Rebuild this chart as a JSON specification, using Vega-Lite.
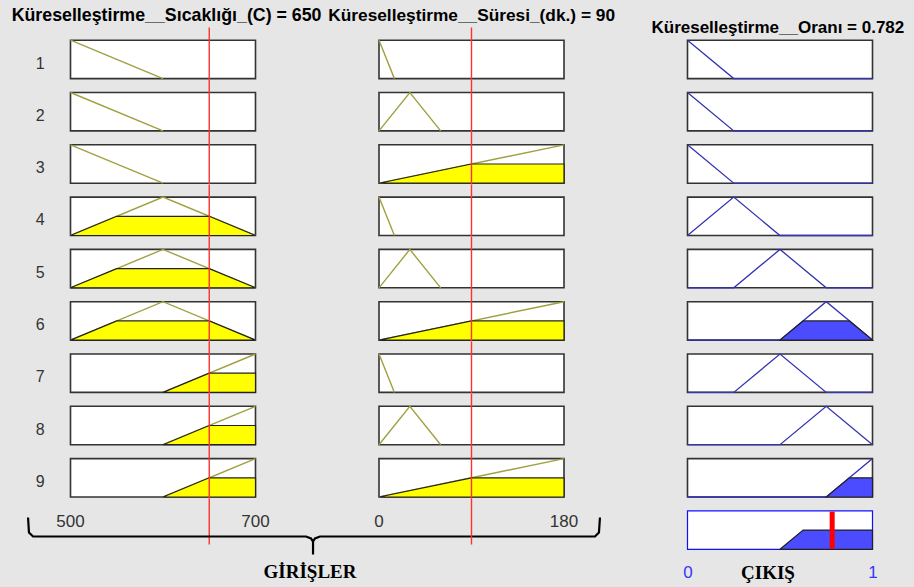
{
 "$schema": "https://vega.github.io/schema/vega-lite/v6.json",
 "background": "#e6e6e6",
 "padding": {"left": 11.5, "top": 6.5, "right": 15, "bottom": 20},
 "config": {"view": {"stroke": null}, "font": "Liberation Sans"},
 "spacing": 308.5,
 "bounds": "flush",
 "datasets": {
  "temp": [
   {"rule":1,"kind":"box","x":500,"x2":700},{"rule":2,"kind":"box","x":500,"x2":700},{"rule":3,"kind":"box","x":500,"x2":700},
   {"rule":4,"kind":"box","x":500,"x2":700},{"rule":5,"kind":"box","x":500,"x2":700},{"rule":6,"kind":"box","x":500,"x2":700},
   {"rule":7,"kind":"box","x":500,"x2":700},{"rule":8,"kind":"box","x":500,"x2":700},{"rule":9,"kind":"box","x":500,"x2":700},
   {"rule":1,"kind":"mf","x":500,"mu":1},{"rule":1,"kind":"mf","x":600,"mu":0},
   {"rule":2,"kind":"mf","x":500,"mu":1},{"rule":2,"kind":"mf","x":600,"mu":0},
   {"rule":3,"kind":"mf","x":500,"mu":1},{"rule":3,"kind":"mf","x":600,"mu":0},
   {"rule":4,"kind":"mf","x":500,"mu":0},{"rule":4,"kind":"mf","x":600,"mu":1},{"rule":4,"kind":"mf","x":700,"mu":0},
   {"rule":5,"kind":"mf","x":500,"mu":0},{"rule":5,"kind":"mf","x":600,"mu":1},{"rule":5,"kind":"mf","x":700,"mu":0},
   {"rule":6,"kind":"mf","x":500,"mu":0},{"rule":6,"kind":"mf","x":600,"mu":1},{"rule":6,"kind":"mf","x":700,"mu":0},
   {"rule":7,"kind":"mf","x":600,"mu":0},{"rule":7,"kind":"mf","x":700,"mu":1},
   {"rule":8,"kind":"mf","x":600,"mu":0},{"rule":8,"kind":"mf","x":700,"mu":1},
   {"rule":9,"kind":"mf","x":600,"mu":0},{"rule":9,"kind":"mf","x":700,"mu":1},
   {"rule":4,"kind":"fill","x":500,"mu":0},{"rule":4,"kind":"fill","x":550,"mu":0.5},{"rule":4,"kind":"fill","x":650,"mu":0.5},{"rule":4,"kind":"fill","x":700,"mu":0},
   {"rule":5,"kind":"fill","x":500,"mu":0},{"rule":5,"kind":"fill","x":550,"mu":0.5},{"rule":5,"kind":"fill","x":650,"mu":0.5},{"rule":5,"kind":"fill","x":700,"mu":0},
   {"rule":6,"kind":"fill","x":500,"mu":0},{"rule":6,"kind":"fill","x":550,"mu":0.5},{"rule":6,"kind":"fill","x":650,"mu":0.5},{"rule":6,"kind":"fill","x":700,"mu":0},
   {"rule":7,"kind":"fill","x":600,"mu":0},{"rule":7,"kind":"fill","x":650,"mu":0.5},{"rule":7,"kind":"fill","x":700,"mu":0.5},
   {"rule":8,"kind":"fill","x":600,"mu":0},{"rule":8,"kind":"fill","x":650,"mu":0.5},{"rule":8,"kind":"fill","x":700,"mu":0.5},
   {"rule":9,"kind":"fill","x":600,"mu":0},{"rule":9,"kind":"fill","x":650,"mu":0.5},{"rule":9,"kind":"fill","x":700,"mu":0.5},
   {"rule":1,"kind":"red","x":650},{"rule":2,"kind":"red","x":650},{"rule":3,"kind":"red","x":650},
   {"rule":4,"kind":"red","x":650},{"rule":5,"kind":"red","x":650},{"rule":6,"kind":"red","x":650},
   {"rule":7,"kind":"red","x":650},{"rule":8,"kind":"red","x":650},{"rule":9,"kind":"red","x":650},
   {"rule":10,"kind":"red10","x":650},
   {"rule":10,"kind":"lbl","x":500,"text":"500"},{"rule":10,"kind":"lbl","x":700,"text":"700"},
   {"rule":10,"kind":"brace","i":1,"x":454.1,"mu":0.828},
   {"rule":10,"kind":"brace","i":2,"x":455.1,"mu":0.438},
   {"rule":10,"kind":"brace","i":3,"x":459.5,"mu":0.334},
   {"rule":10,"kind":"brace","i":4,"x":754.6,"mu":0.334},
   {"rule":10,"kind":"brace","i":5,"x":760.0,"mu":0.282},
   {"rule":10,"kind":"brace","i":6,"x":762.2,"mu":0.203},
   {"rule":10,"kind":"brace","i":7,"x":762.2,"mu":-0.135},
   {"rule":10,"kind":"brace","i":8,"x":762.2,"mu":0.203},
   {"rule":10,"kind":"brace","i":9,"x":764.3,"mu":0.282},
   {"rule":10,"kind":"brace","i":10,"x":769.7,"mu":0.334},
   {"rule":10,"kind":"brace","i":11,"x":1067.0,"mu":0.334},
   {"rule":10,"kind":"brace","i":12,"x":1071.3,"mu":0.438},
   {"rule":10,"kind":"brace","i":13,"x":1072.4,"mu":0.828},
   {"rule":10,"kind":"cap","x":758.9,"mu":-0.578,"text":"GİRİŞLER"}
  ],
  "time": [
   {"rule":1,"kind":"box","x":0,"x2":180},{"rule":2,"kind":"box","x":0,"x2":180},{"rule":3,"kind":"box","x":0,"x2":180},
   {"rule":4,"kind":"box","x":0,"x2":180},{"rule":5,"kind":"box","x":0,"x2":180},{"rule":6,"kind":"box","x":0,"x2":180},
   {"rule":7,"kind":"box","x":0,"x2":180},{"rule":8,"kind":"box","x":0,"x2":180},{"rule":9,"kind":"box","x":0,"x2":180},
   {"rule":1,"kind":"mf","x":0,"mu":1},{"rule":1,"kind":"mf","x":15,"mu":0},
   {"rule":4,"kind":"mf","x":0,"mu":1},{"rule":4,"kind":"mf","x":15,"mu":0},
   {"rule":7,"kind":"mf","x":0,"mu":1},{"rule":7,"kind":"mf","x":15,"mu":0},
   {"rule":2,"kind":"mf","x":0,"mu":0},{"rule":2,"kind":"mf","x":30,"mu":1},{"rule":2,"kind":"mf","x":60,"mu":0},
   {"rule":5,"kind":"mf","x":0,"mu":0},{"rule":5,"kind":"mf","x":30,"mu":1},{"rule":5,"kind":"mf","x":60,"mu":0},
   {"rule":8,"kind":"mf","x":0,"mu":0},{"rule":8,"kind":"mf","x":30,"mu":1},{"rule":8,"kind":"mf","x":60,"mu":0},
   {"rule":3,"kind":"mf","x":0,"mu":0},{"rule":3,"kind":"mf","x":180,"mu":1},
   {"rule":6,"kind":"mf","x":0,"mu":0},{"rule":6,"kind":"mf","x":180,"mu":1},
   {"rule":9,"kind":"mf","x":0,"mu":0},{"rule":9,"kind":"mf","x":180,"mu":1},
   {"rule":3,"kind":"fill","x":0,"mu":0},{"rule":3,"kind":"fill","x":90,"mu":0.5},{"rule":3,"kind":"fill","x":180,"mu":0.5},
   {"rule":6,"kind":"fill","x":0,"mu":0},{"rule":6,"kind":"fill","x":90,"mu":0.5},{"rule":6,"kind":"fill","x":180,"mu":0.5},
   {"rule":9,"kind":"fill","x":0,"mu":0},{"rule":9,"kind":"fill","x":90,"mu":0.5},{"rule":9,"kind":"fill","x":180,"mu":0.5},
   {"rule":1,"kind":"red","x":90},{"rule":2,"kind":"red","x":90},{"rule":3,"kind":"red","x":90},
   {"rule":4,"kind":"red","x":90},{"rule":5,"kind":"red","x":90},{"rule":6,"kind":"red","x":90},
   {"rule":7,"kind":"red","x":90},{"rule":8,"kind":"red","x":90},{"rule":9,"kind":"red","x":90},
   {"rule":10,"kind":"red10","x":90},
   {"rule":10,"kind":"lbl","x":0,"text":"0"},{"rule":10,"kind":"lbl","x":180,"text":"180"}
  ],
  "out": [
   {"rule":1,"kind":"box","x":0,"x2":1},{"rule":2,"kind":"box","x":0,"x2":1},{"rule":3,"kind":"box","x":0,"x2":1},
   {"rule":4,"kind":"box","x":0,"x2":1},{"rule":5,"kind":"box","x":0,"x2":1},{"rule":6,"kind":"box","x":0,"x2":1},
   {"rule":7,"kind":"box","x":0,"x2":1},{"rule":8,"kind":"box","x":0,"x2":1},{"rule":9,"kind":"box","x":0,"x2":1},
   {"rule":10,"kind":"box10","x":0,"x2":1},
   {"rule":1,"kind":"mf","x":0,"mu":1},{"rule":1,"kind":"mf","x":0.25,"mu":0},{"rule":1,"kind":"mf","x":1,"mu":0},
   {"rule":2,"kind":"mf","x":0,"mu":1},{"rule":2,"kind":"mf","x":0.25,"mu":0},{"rule":2,"kind":"mf","x":1,"mu":0},
   {"rule":3,"kind":"mf","x":0,"mu":1},{"rule":3,"kind":"mf","x":0.25,"mu":0},{"rule":3,"kind":"mf","x":1,"mu":0},
   {"rule":4,"kind":"mf","x":0,"mu":0},{"rule":4,"kind":"mf","x":0.25,"mu":1},{"rule":4,"kind":"mf","x":0.5,"mu":0},{"rule":4,"kind":"mf","x":1,"mu":0},
   {"rule":5,"kind":"mf","x":0,"mu":0},{"rule":5,"kind":"mf","x":0.25,"mu":0},{"rule":5,"kind":"mf","x":0.5,"mu":1},{"rule":5,"kind":"mf","x":0.75,"mu":0},{"rule":5,"kind":"mf","x":1,"mu":0},
   {"rule":6,"kind":"mf","x":0,"mu":0},{"rule":6,"kind":"mf","x":0.5,"mu":0},{"rule":6,"kind":"mf","x":0.75,"mu":1},{"rule":6,"kind":"mf","x":1,"mu":0},
   {"rule":7,"kind":"mf","x":0,"mu":0},{"rule":7,"kind":"mf","x":0.25,"mu":0},{"rule":7,"kind":"mf","x":0.5,"mu":1},{"rule":7,"kind":"mf","x":0.75,"mu":0},{"rule":7,"kind":"mf","x":1,"mu":0},
   {"rule":8,"kind":"mf","x":0,"mu":0},{"rule":8,"kind":"mf","x":0.5,"mu":0},{"rule":8,"kind":"mf","x":0.75,"mu":1},{"rule":8,"kind":"mf","x":1,"mu":0},
   {"rule":9,"kind":"mf","x":0,"mu":0},{"rule":9,"kind":"mf","x":0.75,"mu":0},{"rule":9,"kind":"mf","x":1,"mu":1},
   {"rule":6,"kind":"fill","x":0.5,"mu":0},{"rule":6,"kind":"fill","x":0.625,"mu":0.5},{"rule":6,"kind":"fill","x":0.875,"mu":0.5},{"rule":6,"kind":"fill","x":1,"mu":0},
   {"rule":9,"kind":"fill","x":0.75,"mu":0},{"rule":9,"kind":"fill","x":0.875,"mu":0.5},{"rule":9,"kind":"fill","x":1,"mu":0.5},
   {"rule":10,"kind":"fill","x":0.5,"mu":0},{"rule":10,"kind":"fill","x":0.625,"mu":0.5},{"rule":10,"kind":"fill","x":1,"mu":0.5},
   {"rule":10,"kind":"out","x":0.782}
  ]
 },
 "hconcat": [
  {
   "data": {"name": "temp"},
   "title": {"text": "Küreselleştirme__Sıcaklığı_(C) = 650", "fontSize": 17.8, "fontWeight": "bold", "font": "Liberation Sans", "color": "#000", "anchor": "start", "offset": 2.2, "dx": -12},
   "spacing": {"row": 0.3},
   "bounds": "flush",
   "facet": {"row": {"field": "rule", "type": "ordinal", "title": null,
     "header": {"labelOrient": "left", "labelAngle": 0, "labelAlign": "right", "labelBaseline": "line-top", "labelLineHeight": 21, "labelPadding": 17, "labelFontSize": 16, "labelColor": "#333", "labelFont": "Liberation Sans", "labelExpr": "datum.value == 10 ? '' : datum.label"}}},
   "spec": {
    "width": 185, "height": 52,
    "layer": [
     {"transform": [{"filter": "datum.kind == 'box'"}],
      "mark": {"type": "rect", "fill": "white", "stroke": "#333333", "strokeWidth": 1.6},
      "encoding": {"x": {"field": "x", "type": "quantitative", "scale": {"domain": [500, 700], "nice": false, "zero": false}, "axis": null}, "x2": {"field": "x2"},
       "y": {"datum": 0, "type": "quantitative", "scale": {"domain": [-0.023, 1.331], "nice": false, "zero": false}, "axis": null}, "y2": {"datum": 1}}},
     {"transform": [{"filter": "datum.kind == 'mf'"}],
      "mark": {"type": "line", "color": "#a0a040", "strokeWidth": 1.4},
      "encoding": {"x": {"field": "x", "type": "quantitative", "axis": null}, "y": {"field": "mu", "type": "quantitative", "axis": null}}},
     {"transform": [{"filter": "datum.kind == 'fill'"}],
      "mark": {"type": "area", "fill": "#ffff00", "fillOpacity": 1, "stroke": "#222", "strokeWidth": 1.2},
      "encoding": {"x": {"field": "x", "type": "quantitative", "axis": null}, "y": {"field": "mu", "type": "quantitative", "axis": null}, "y2": {"datum": 0}}},
     {"transform": [{"filter": "datum.kind == 'red'"}],
      "mark": {"type": "rule", "color": "#ff3030", "strokeWidth": 1.4},
      "encoding": {"x": {"field": "x", "type": "quantitative", "axis": null}}},
     {"transform": [{"filter": "datum.kind == 'red10'"}],
      "mark": {"type": "rule", "color": "#ff3030", "strokeWidth": 1.4},
      "encoding": {"x": {"field": "x", "type": "quantitative", "axis": null}, "y": {"datum": 1.331, "axis": null}, "y2": {"datum": 0.125}}},
     {"transform": [{"filter": "datum.kind == 'lbl'"}],
      "mark": {"type": "text", "fontSize": 17, "color": "#333", "align": "center", "baseline": "middle", "font": "Liberation Sans"},
      "encoding": {"x": {"field": "x", "type": "quantitative", "axis": null}, "y": {"datum": 0.724, "axis": null}, "text": {"field": "text"}}},
     {"transform": [{"filter": "datum.kind == 'brace'"}],
      "mark": {"type": "line", "color": "#000", "strokeWidth": 2.2},
      "encoding": {"x": {"field": "x", "type": "quantitative", "axis": null}, "y": {"field": "mu", "type": "quantitative", "axis": null}, "order": {"field": "i"}}},
     {"transform": [{"filter": "datum.kind == 'cap'"}],
      "mark": {"type": "text", "fontSize": 19, "fontWeight": "bold", "color": "#000", "align": "center", "baseline": "middle", "font": "Liberation Serif"},
      "encoding": {"x": {"field": "x", "type": "quantitative", "axis": null}, "y": {"field": "mu", "type": "quantitative", "axis": null}, "text": {"field": "text"}}}
    ]
   }
  },
  {
   "data": {"name": "time"},
   "title": {"text": "Küreselleştirme__Süresi_(dk.) = 90", "fontSize": 17.3, "fontWeight": "bold", "font": "Liberation Sans", "color": "#000", "anchor": "start", "offset": 2.2, "dx": -46},
   "spacing": {"row": 0.3},
   "bounds": "flush",
   "facet": {"row": {"field": "rule", "type": "ordinal", "title": null, "header": {"labels": false}}},
   "spec": {
    "width": 185, "height": 52,
    "layer": [
     {"transform": [{"filter": "datum.kind == 'box'"}],
      "mark": {"type": "rect", "fill": "white", "stroke": "#333333", "strokeWidth": 1.6},
      "encoding": {"x": {"field": "x", "type": "quantitative", "scale": {"domain": [0, 180], "nice": false, "zero": false}, "axis": null}, "x2": {"field": "x2"},
       "y": {"datum": 0, "type": "quantitative", "scale": {"domain": [-0.023, 1.331], "nice": false, "zero": false}, "axis": null}, "y2": {"datum": 1}}},
     {"transform": [{"filter": "datum.kind == 'mf'"}],
      "mark": {"type": "line", "color": "#a0a040", "strokeWidth": 1.4},
      "encoding": {"x": {"field": "x", "type": "quantitative", "axis": null}, "y": {"field": "mu", "type": "quantitative", "axis": null}}},
     {"transform": [{"filter": "datum.kind == 'fill'"}],
      "mark": {"type": "area", "fill": "#ffff00", "fillOpacity": 1, "stroke": "#222", "strokeWidth": 1.2},
      "encoding": {"x": {"field": "x", "type": "quantitative", "axis": null}, "y": {"field": "mu", "type": "quantitative", "axis": null}, "y2": {"datum": 0}}},
     {"transform": [{"filter": "datum.kind == 'red'"}],
      "mark": {"type": "rule", "color": "#ff3030", "strokeWidth": 1.4},
      "encoding": {"x": {"field": "x", "type": "quantitative", "axis": null}}},
     {"transform": [{"filter": "datum.kind == 'red10'"}],
      "mark": {"type": "rule", "color": "#ff3030", "strokeWidth": 1.4},
      "encoding": {"x": {"field": "x", "type": "quantitative", "axis": null}, "y": {"datum": 1.331, "axis": null}, "y2": {"datum": 0.125}}},
     {"transform": [{"filter": "datum.kind == 'lbl'"}],
      "mark": {"type": "text", "fontSize": 17, "color": "#333", "align": "center", "baseline": "middle", "font": "Liberation Sans"},
      "encoding": {"x": {"field": "x", "type": "quantitative", "axis": null}, "y": {"datum": 0.724, "axis": null}, "text": {"field": "text"}}}
    ]
   }
  },
  {
   "data": {"name": "out"},
   "title": {"text": "Küreselleştirme__Oranı = 0.782", "fontSize": 17, "fontWeight": "bold", "font": "Liberation Sans", "color": "#000", "anchor": "start", "offset": -9, "dx": -31.3},
   "spacing": {"row": 0.3},
   "bounds": "flush",
   "facet": {"row": {"field": "rule", "type": "ordinal", "title": null, "header": {"labels": false}}},
   "spec": {
    "width": 185, "height": 52,
    "layer": [
     {"transform": [{"filter": "datum.kind == 'box'"}],
      "mark": {"type": "rect", "fill": "white", "stroke": "#333333", "strokeWidth": 1.6},
      "encoding": {"x": {"field": "x", "type": "quantitative", "scale": {"domain": [0, 1], "nice": false, "zero": false},
         "axis": {"values": [0, 1], "format": "d", "ticks": false, "domain": false, "grid": false, "labelColor": "#3535ff", "labelFontSize": 17, "labelFont": "Liberation Sans", "labelPadding": 14, "labelFlush": false,
           "title": "ÇIKIŞ", "titleFont": "Liberation Serif", "titleFontSize": 19, "titleFontWeight": "bold", "titleColor": "#000", "titleX": 80, "titleY": 22, "titleBaseline": "middle", "titleAlign": "center"}},
       "x2": {"field": "x2"},
       "y": {"datum": 0, "type": "quantitative", "scale": {"domain": [-0.023, 1.331], "nice": false, "zero": false}, "axis": null}, "y2": {"datum": 1}}},
     {"transform": [{"filter": "datum.kind == 'box10'"}],
      "mark": {"type": "rect", "fill": "white", "stroke": "#1010ff", "strokeWidth": 1.2},
      "encoding": {"x": {"field": "x", "type": "quantitative"}, "x2": {"field": "x2"},
       "y": {"datum": 0, "type": "quantitative", "axis": null}, "y2": {"datum": 1}}},
     {"transform": [{"filter": "datum.kind == 'mf'"}],
      "mark": {"type": "line", "color": "#3434b4", "strokeWidth": 1.3},
      "encoding": {"x": {"field": "x", "type": "quantitative"}, "y": {"field": "mu", "type": "quantitative", "axis": null}}},
     {"transform": [{"filter": "datum.kind == 'fill'"}],
      "mark": {"type": "area", "fill": "#4b4bff", "fillOpacity": 1, "stroke": "#222", "strokeWidth": 1.2},
      "encoding": {"x": {"field": "x", "type": "quantitative"}, "y": {"field": "mu", "type": "quantitative", "axis": null}, "y2": {"datum": 0}}},
     {"transform": [{"filter": "datum.kind == 'out'"}],
      "mark": {"type": "rule", "color": "#ff0000", "strokeWidth": 5},
      "encoding": {"x": {"field": "x", "type": "quantitative"}, "y": {"datum": 0.02, "axis": null}, "y2": {"datum": 0.98}}}
    ]
   }
  }
 ]
}
